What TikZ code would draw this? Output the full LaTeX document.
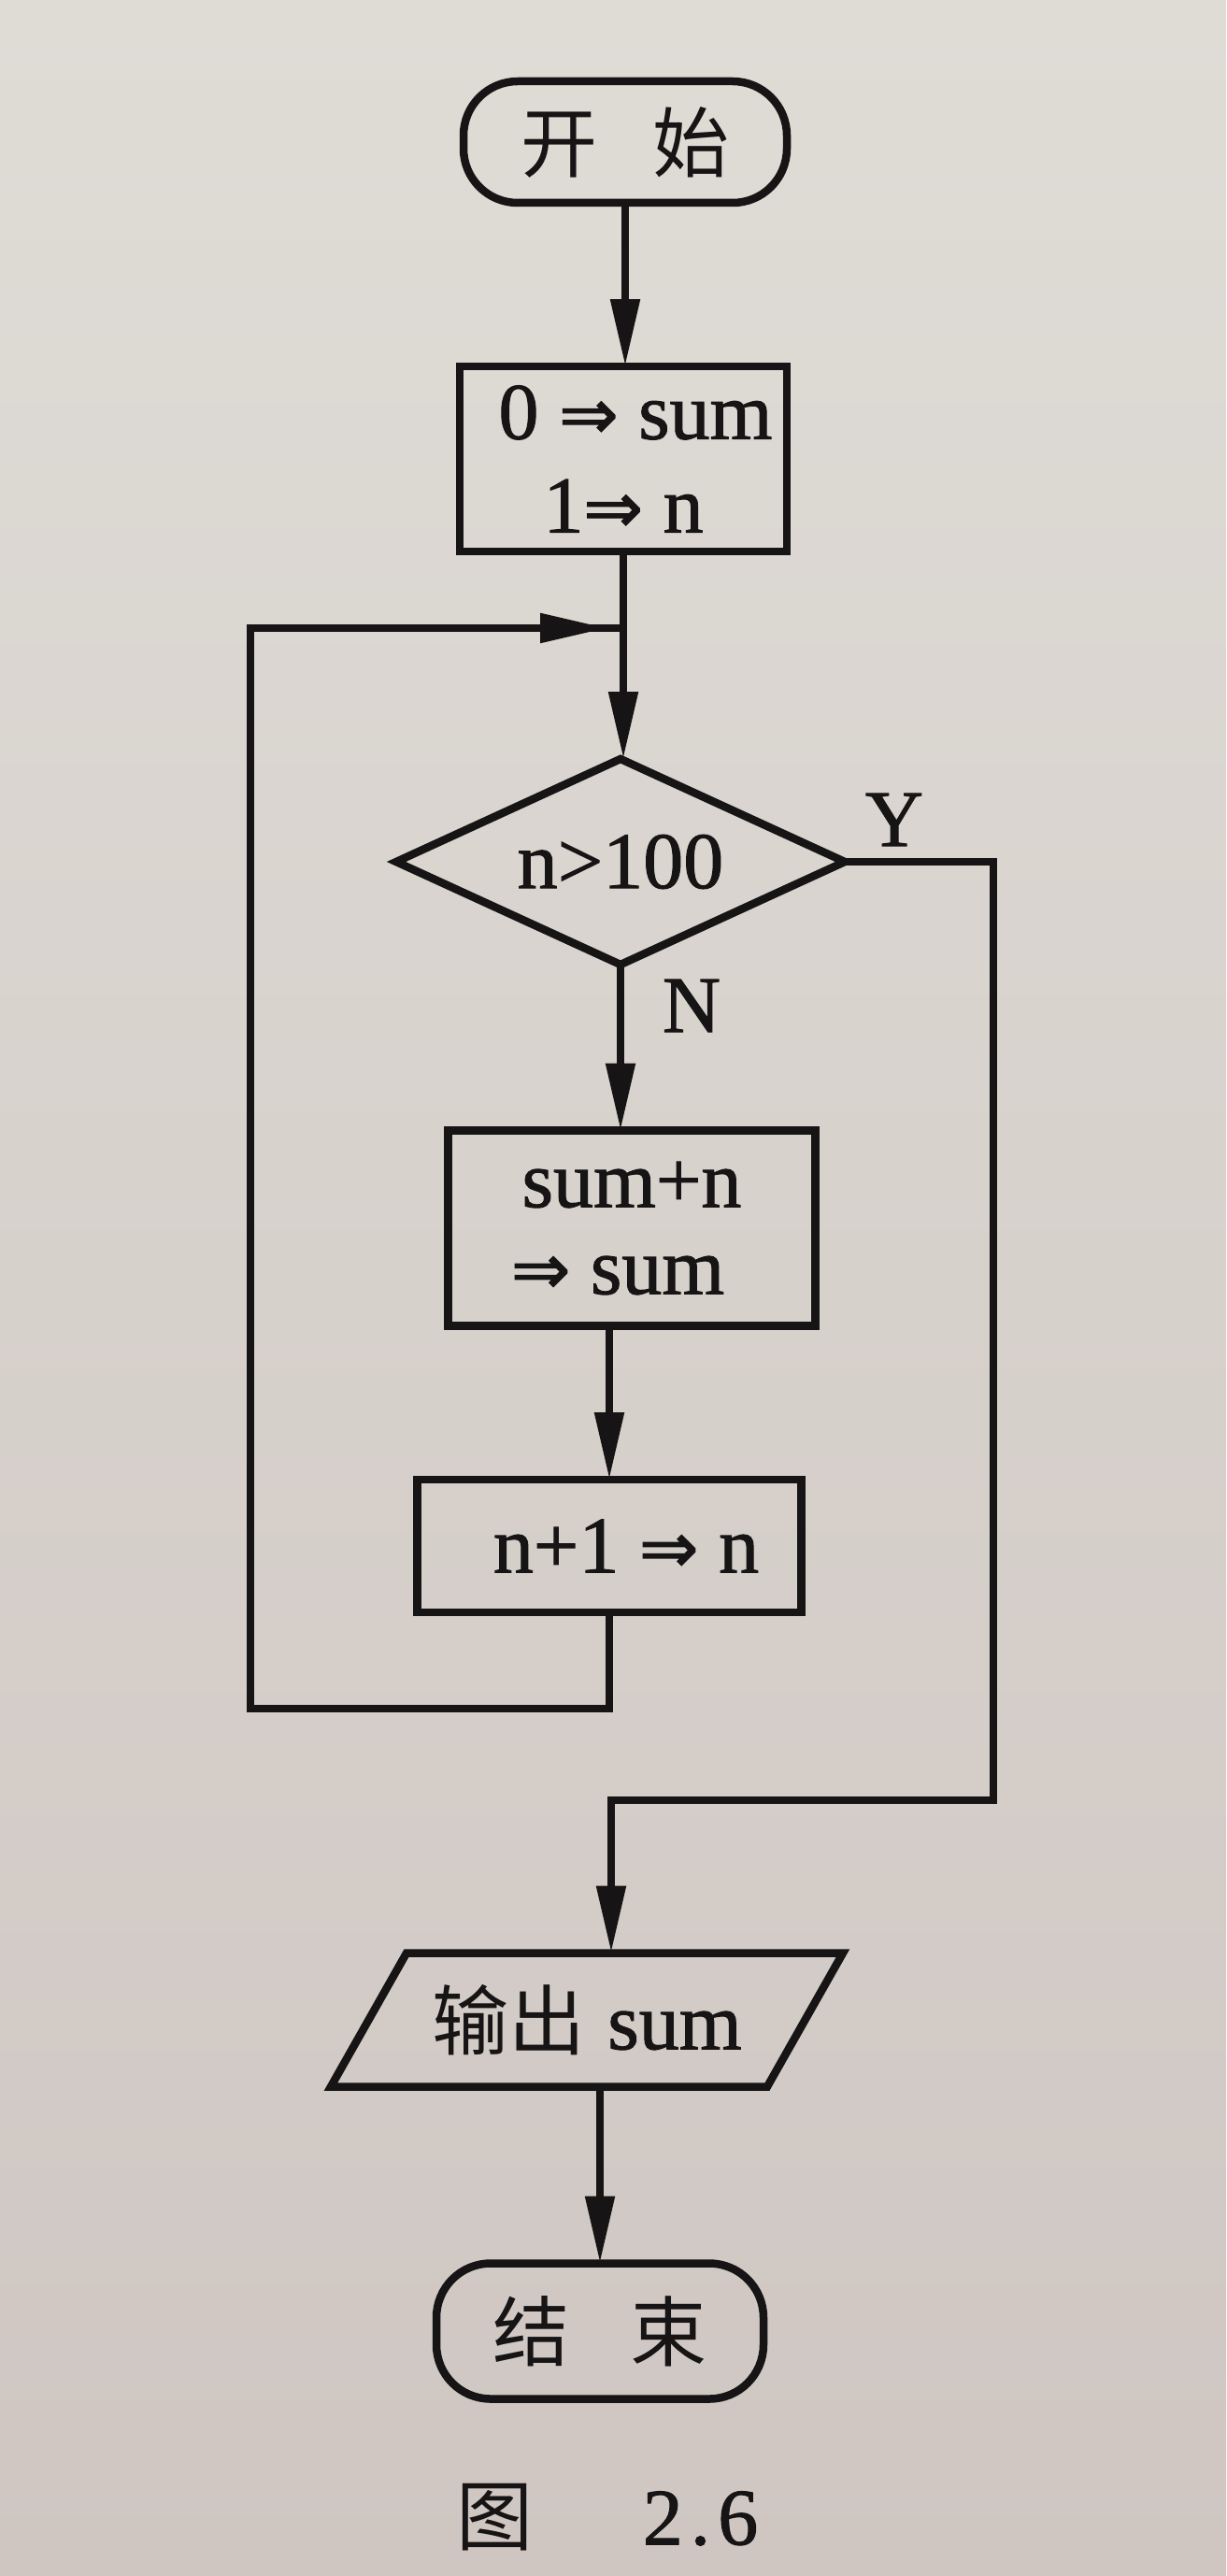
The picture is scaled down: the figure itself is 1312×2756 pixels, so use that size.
\documentclass[tikz,border=0pt]{standalone}
\usepackage{fontspec}
\usepackage{graphicx}
\setmainfont{Liberation Serif}[FakeBold=1.2]
\newfontfamily\cjk{Noto Sans CJK SC}
\newfontfamily\djv{DejaVu Sans}[FakeBold=1.5]
\usetikzlibrary{shapes.geometric,arrows.meta}
\definecolor{ink}{RGB}{22,20,20}
\definecolor{papertop}{RGB}{223,220,214}
\definecolor{paperbot}{RGB}{207,198,194}
\newcommand{\imp}{{\djv\fontsize{76}{90}\selectfont ⇒}}
\begin{document}
\begin{tikzpicture}[x=1pt,y=-1pt,
  every node/.style={inner sep=0pt, outer sep=0pt, text=ink},
  lat/.style={font=\fontsize{86}{100}\selectfont},
  cn/.style={font=\cjk\fontsize{82}{100}\selectfont},
  boxnode/.style={draw=ink, line width=8.5pt, rectangle, align=center, lat},
  termnode/.style={draw=ink, line width=8.5pt, rectangle, rounded corners=58pt, cn},
  decnode/.style={draw=ink, line width=8.5pt, diamond, aspect=2.18, lat},
  flow/.style={draw=ink, line width=8.5pt},
  arr/.style={flow, -{Triangle[length=72pt,width=30pt]}}
]
% paper
\shade[top color=papertop, bottom color=paperbot] (0,0) rectangle (1312,2756);
\useasboundingbox (0,0) rectangle (1312,2756);

% nodes
\node[termnode, minimum width=346pt, minimum height=130pt] (start) at (669,152) {开\hspace{60pt}始};
\node[boxnode, minimum width=350pt, minimum height=198pt] (b1) at (667,491)
  {\hspace{26pt}0 \imp{} sum\\1\imp{} n};
\node[decnode, minimum width=480pt, minimum height=220pt] (d) at (664,922) {n>100};
\node[boxnode, minimum width=393pt, minimum height=209pt, font=\fontsize{86}{93}\selectfont] (b2) at (676,1314)
  {sum+n\\\hspace{-30pt}\imp{} sum};
\node[boxnode, minimum width=411pt, minimum height=142pt] (b3) at (652,1654)
  {\hspace{36pt}n+1 \imp{} n};
\node[lat, minimum width=467pt, minimum height=143pt] (out) at (628,2161)
  {{\cjk\fontsize{82}{100}\selectfont 输出}\hspace{24pt}sum};
\draw[flow] ([xshift=40.5pt]out.north west) -- ([xshift=40.5pt]out.north east)
  -- ([xshift=-40.5pt]out.south east) -- ([xshift=-40.5pt]out.south west) -- cycle;
\node[termnode, minimum width=350pt, minimum height=145pt] (end) at (642,2494) {结\hspace{65pt}束};

% labels
\node[lat] (ylab) at (957,877) {Y};
\node[lat] (nlab) at (740,1076) {N};
\node[lat] (cap) at (650,2693) {{\cjk\fontsize{82}{100}\selectfont 图}\hspace{117pt}2\hspace{8pt}.\hspace{8pt}6};

% helper coordinates
\coordinate (m) at (667,672);
\coordinate (mt) at (650,672);
\coordinate (lb) at (652,1828);
\coordinate (ll) at (268,1828);
\coordinate (lt) at (268,672);
\coordinate (yr) at (1063,922);
\coordinate (yb) at (1063,1926);
\coordinate (yc) at (654,1926);

% connectors
\draw[arr] (start.south) -- (start.south |- b1.north);
\draw[arr] (b1.south) -- (b1.south |- d.north);
\draw[arr] (d.south) -- (d.south |- b2.north);
\draw[arr] (b2.south -| b3.north) -- (b3.north);
\draw[flow] (b3.south) -- (lb) -- (ll) -- (lt) -- (m);
\draw[arr] (lt) -- (mt);
\draw[arr] (d.east) -- (yr) -- (yb) -- (yc) -- (yc |- out.north);
\draw[arr] (out.south -| end.north) -- (end.north);
\end{tikzpicture}
\end{document}
